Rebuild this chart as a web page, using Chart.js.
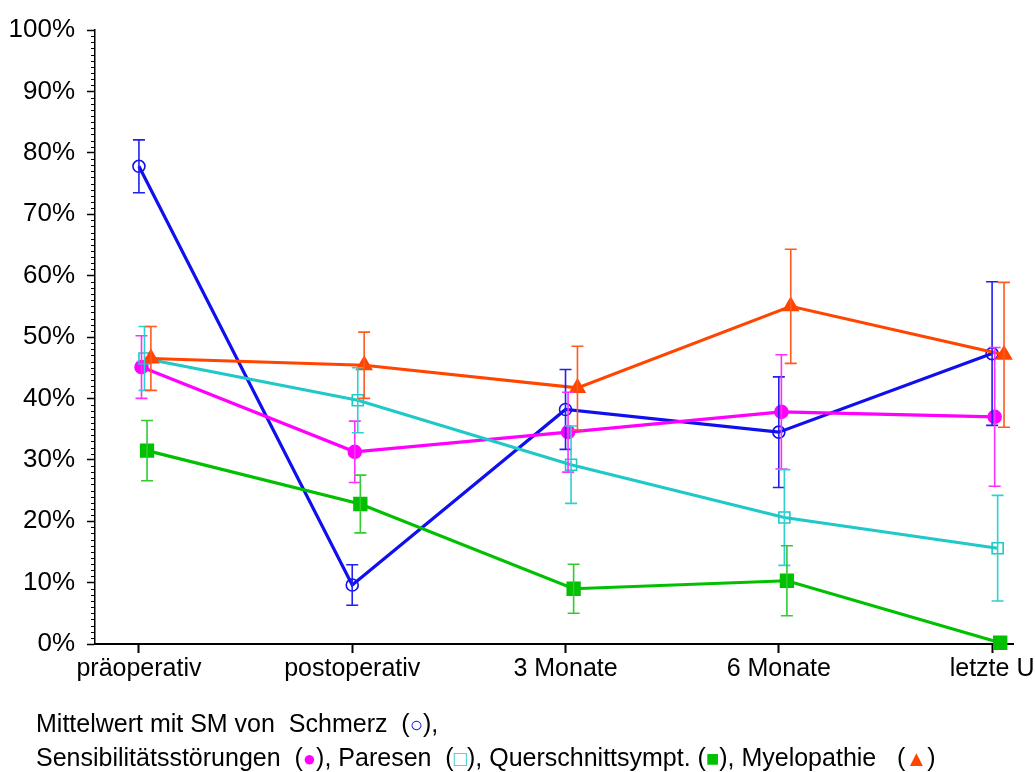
<!DOCTYPE html>
<html lang="de">
<head>
<meta charset="utf-8">
<title>Mittelwert mit SM</title>
<script src="https://cdn.jsdelivr.net/npm/chart.js@4.4.1/dist/chart.umd.min.js"></script>
<style>
    html, body { margin: 0; padding: 0; background: #fff; }
    #wrap { position: relative; width: 1035px; height: 772px; }
    #caption {
        position: absolute; left: 36px; top: 707px;
        font-family: 'Liberation Sans', Arial, sans-serif; font-size: 25px;
        line-height: 33px; color: #000; white-space: nowrap;
    }
    #caption .sym { font-size: 22px; }
</style>
</head>
<body>
<div id="wrap">
    <canvas id="chart" width="1035" height="772"></canvas>
    <div id="caption">
        Mittelwert mit SM von&nbsp; Schmerz&nbsp; (<span class="sym" style="color:#1010ee">○</span>),<br>
        Sensibilitätsstörungen&nbsp; (<span class="sym" style="color:#ff00ff">●</span>), Paresen&nbsp; (<span class="sym" style="color:#20c8c8">□</span>), Querschnittsympt. (<span class="sym" style="color:#00c000">■</span>), Myelopathie &nbsp; (<span class="sym" style="color:#ff4500">▲</span>)
    </div>
</div>
<script>
const categories = ['präoperativ', 'postoperativ', '3 Monate', '6 Monate', 'letzte U'];
const yTicks = [0, 10, 20, 30, 40, 50, 60, 70, 80, 90, 100];

// means and standard errors in percent
const schmerz = [77.8, 9.6, 38.2, 34.5, 47.3];
const schmerzSE = [4.3, 3.3, 6.5, 9.0, 11.7];
const sensib = [45.1, 31.3, 34.5, 37.8, 37.0];
const sensibSE = [5.1, 5.0, 6.5, 9.3, 11.3];
const paresen = [46.5, 39.7, 29.2, 20.6, 15.6];
const paresenSE = [5.2, 5.3, 6.3, 7.8, 8.6];
const querschnitt = [31.5, 22.8, 9.0, 10.3, 0.2];
const querschnittSE = [4.9, 4.7, 4.0, 5.7, 0];
const myelopathie = [46.5, 45.4, 41.7, 55.0, 47.1];
const myelopathieSE = [5.2, 5.4, 6.8, 9.3, 11.8];

// small sideways shift per series so the bars do not overlap
const dodge = [0, 0.012, 0.026, 0.038, 0.056];

const FONT = "'Liberation Sans', Arial, sans-serif";

function toPoints(values, shift) {
    return values.map((v, i) => ({ x: i + shift, y: v }));
}

const seriesDefs = [
    { label: 'Schmerz', data: schmerz, se: schmerzSE, color: '#1010ee', bar: '#2020f0', style: 'circle', radius: 6, fill: 'rgba(0,0,0,0)' },
    { label: 'Sensibilitätsstörungen', data: sensib, se: sensibSE, color: '#ff00ff', bar: '#ff30ff', style: 'circle', radius: 6.5, fill: '#ff00ff' },
    { label: 'Paresen', data: paresen, se: paresenSE, color: '#20c8c8', bar: '#30d0d0', style: 'rect', radius: 7.8, fill: 'rgba(0,0,0,0)' },
    { label: 'Querschnittsympt.', data: querschnitt, se: querschnittSE, color: '#00c000', bar: '#30cc30', style: 'rect', radius: 9, fill: '#00c000' },
    { label: 'Myelopathie', data: myelopathie, se: myelopathieSE, color: '#ff4500', bar: '#ff5a20', style: 'triangle', radius: 8.5, fill: '#ff4500' }
];

const datasets = seriesDefs.map((s, i) => ({
    label: s.label,
    data: toPoints(s.data, dodge[i]),
    errors: s.se,
    barColor: s.bar,
    borderColor: s.color,
    borderWidth: 3.2,
    pointStyle: s.style,
    pointRadius: s.radius,
    pointBorderWidth: 1.6,
    pointBorderColor: s.color,
    pointBackgroundColor: s.fill,
    tension: 0,
    clip: false,
    order: seriesDefs.length - i
}));

// error bars (mean +/- SE) drawn with the y scale
const errorBars = {
    id: 'errorBars',
    afterDatasetsDraw(chart) {
        const ctx = chart.ctx;
        const yScale = chart.scales.y;
        chart.data.datasets.forEach((ds, di) => {
            const meta = chart.getDatasetMeta(di);
            ctx.save();
            ctx.strokeStyle = ds.barColor;
            ctx.lineWidth = 1.6;
            meta.data.forEach((pt, j) => {
                const se = ds.errors[j];
                if (!se) return;
                const v = ds.data[j].y;
                const top = yScale.getPixelForValue(v + se);
                const bottom = yScale.getPixelForValue(v - se);
                ctx.beginPath();
                ctx.moveTo(pt.x, top);
                ctx.lineTo(pt.x, bottom);
                ctx.moveTo(pt.x - 6, top);
                ctx.lineTo(pt.x + 6, top);
                ctx.moveTo(pt.x - 6, bottom);
                ctx.lineTo(pt.x + 6, bottom);
                ctx.stroke();
            });
            ctx.restore();
        });
    }
};

// 1% minor ticks on the y axis
const minorTicks = {
    id: 'minorTicks',
    afterDraw(chart) {
        const ctx = chart.ctx;
        const yScale = chart.scales.y;
        const left = chart.chartArea.left;
        ctx.save();
        ctx.strokeStyle = '#000';
        ctx.lineWidth = 1;
        for (let v = 0; v <= 100; v++) {
            if (v % 10 === 0) continue;
            const y = Math.round(yScale.getPixelForValue(v)) + 0.5;
            ctx.beginPath();
            ctx.moveTo(left - 4, y);
            ctx.lineTo(left, y);
            ctx.stroke();
        }
        ctx.restore();
    }
};

new Chart(document.getElementById('chart'), {
    type: 'line',
    data: { datasets },
    plugins: [errorBars, minorTicks],
    options: {
        responsive: false,
        animation: false,
        events: [],
        layout: { padding: { top: 30, right: 22, bottom: 88, left: 0 } },
        plugins: {
            legend: { display: false },
            tooltip: { enabled: false }
        },
        scales: {
            x: {
                type: 'linear',
                min: -0.206,
                max: 4.098,
                afterBuildTicks: scale => {
                    scale.ticks = categories.map((c, i) => ({ value: i }));
                },
                afterFit: scale => {
                    scale.height = 40;
                    scale.paddingLeft = 0;
                    scale.paddingRight = 0;
                },
                ticks: {
                    callback: v => categories[v],
                    font: { family: FONT, size: 25 },
                    color: '#000',
                    padding: 1,
                    maxRotation: 0,
                    autoSkip: false
                },
                grid: { drawOnChartArea: false, tickLength: 9, tickColor: '#000', tickWidth: 2 },
                border: { color: '#000', width: 2 }
            },
            y: {
                min: 0,
                max: 100,
                afterBuildTicks: scale => {
                    scale.ticks = yTicks.map(v => ({ value: v }));
                },
                afterFit: scale => {
                    scale.width = 95;
                    scale.paddingTop = 0;
                    scale.paddingBottom = 0;
                },
                ticks: {
                    callback: v => v + '%',
                    font: { family: FONT, size: 26 },
                    color: '#000',
                    padding: 12
                },
                grid: { drawOnChartArea: false, tickLength: 8, tickColor: '#000', tickWidth: 1.5 },
                border: { color: '#000', width: 1.5 }
            }
        }
    }
});
</script>
</body>
</html>
